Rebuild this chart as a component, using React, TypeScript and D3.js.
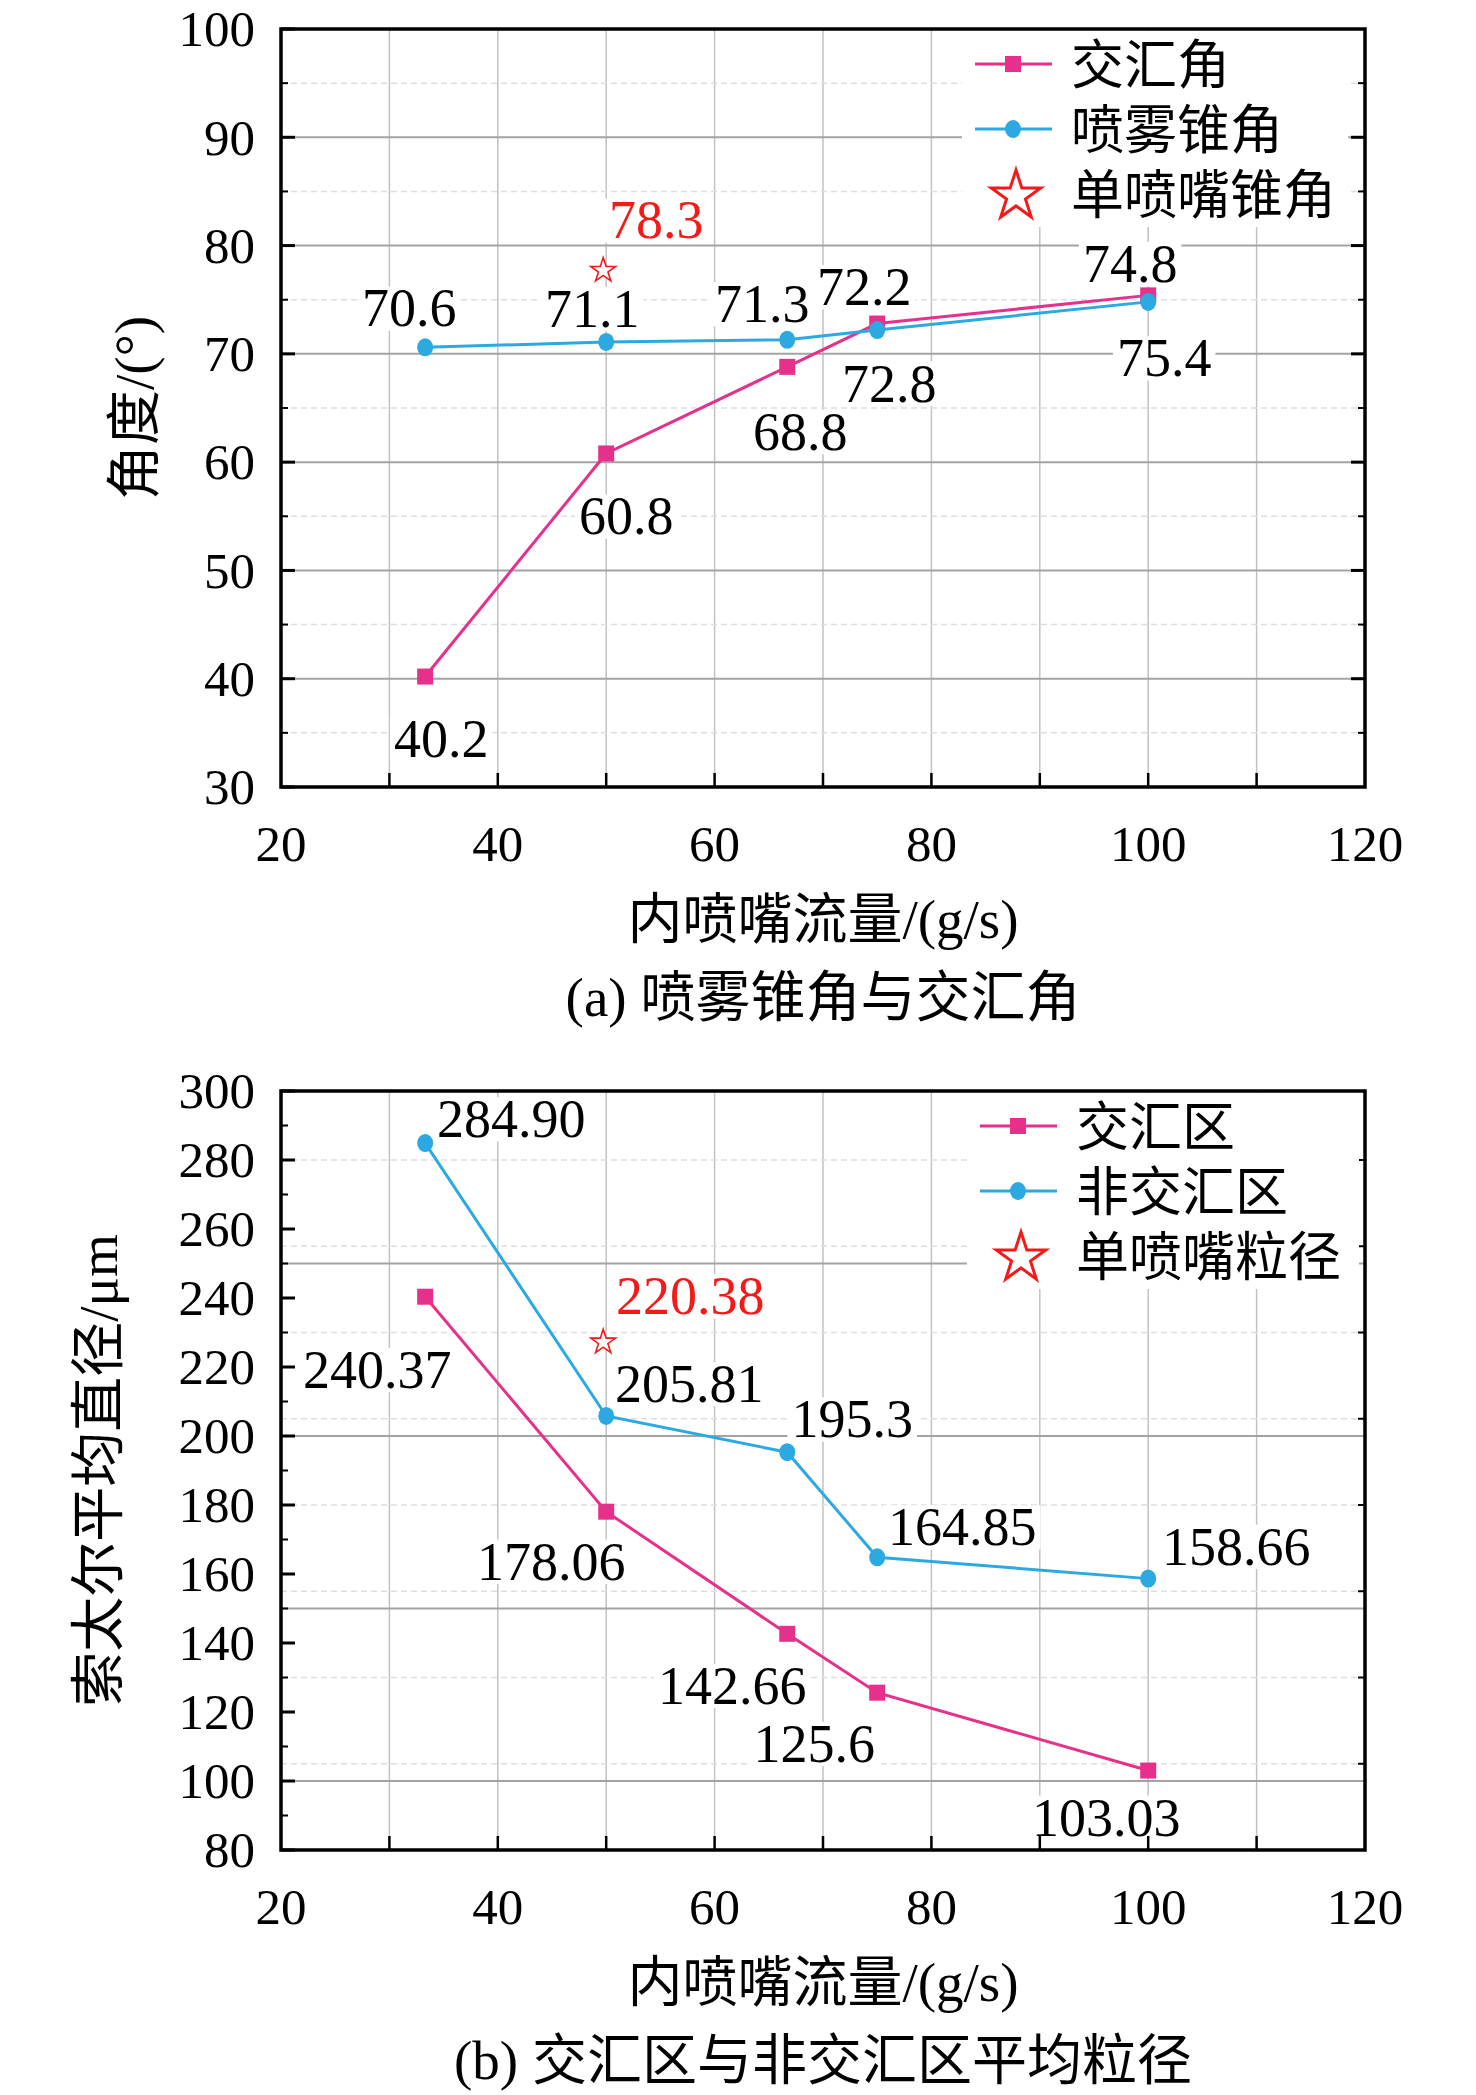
import * as d3 from 'd3';

// inner nozzle flow (g/s), shared by both panels
const flowRates = [33.3, 50, 66.7, 75, 100];

// (a) angles
const mergeAngle = [40.2, 60.8, 68.8, 72.8, 75.4];
const sprayAngle = [70.6, 71.1, 71.3, 72.2, 74.8];
const mergeAngleText = ['40.2', '60.8', '68.8', '72.8', '75.4'];
const sprayAngleText = ['70.6', '71.1', '71.3', '72.2', '74.8'];
// the star is drawn a little above its printed value in the source figure
const singleAngle = { flow: 50, value: 77.7, text: '78.3' };

// (b) Sauter mean diameter
const mergeSize = [240.37, 178.06, 142.66, 125.6, 103.03];
const nonMergeSize = [284.9, 205.81, 195.3, 164.85, 158.66];
const mergeSizeText = ['240.37', '178.06', '142.66', '125.6', '103.03'];
const nonMergeSizeText = ['284.90', '205.81', '195.3', '164.85', '158.66'];
const singleSize = { flow: 50, value: 227.2, text: '220.38' };

const xTicks = [20, 40, 60, 80, 100, 120];
const angleTicks = [30, 40, 50, 60, 70, 80, 90, 100];
const sizeTicks = [80, 100, 120, 140, 160, 180, 200, 220, 240, 260, 280, 300];

// label placement relative to its point: [dx, dy of baseline]
const sprayAngleOffsets = [[-16, -21], [-14, -15], [-25, -18], [-13, -25], [-18, -20]];
const mergeAngleOffsets = [[16, 80], [20, 81], [13, 83], [12, 78], [16, 81]];
const nonMergeSizeOffsets = [[86, -6], [83, -14], [65, -15], [85, -12], [88, -14]];
const mergeSizeOffsets = [[-48, 91], [-55, 68], [-55, 70], [-63, 69], [-42, 65]];

const FONT = "'Liberation Serif', Tinos, 'Times New Roman', 'DejaVu Serif', 'Noto Sans CJK SC', serif";
const PINK = '#E5318B';
const BLUE = '#2CA9E1';
const RED = '#F41A1A';
const LABEL_FS = 54;
const TICK_FS = 51;
const TITLE_FS = 55;

const x = d3.scaleLinear().domain([20, 120]).range([281, 1365]);

const textWidth = (s: string, fs: number) =>
  s.split('').reduce((w, c) => w + (c === '.' ? 0.25 : 0.5), 0) * fs;

function Label({ cx, base, text, color }: { cx: number; base: number; text: string; color: string }) {
  const w = textWidth(text, LABEL_FS);
  return (
    <g>
      <rect x={cx - w / 2 - 4} y={base - 0.74 * LABEL_FS} width={w + 8} height={0.82 * LABEL_FS} fill="white" />
      <text x={cx} y={base} textAnchor="middle" fontSize={LABEL_FS} fill={color}>{text}</text>
    </g>
  );
}

function Marker({ kind, cx, cy, color }: { kind: string; cx: number; cy: number; color: string }) {
  if (kind === 'square') return <rect x={cx - 8} y={cy - 8} width={16} height={16} fill={color} />;
  return <ellipse cx={cx} cy={cy} rx={8} ry={9} fill={color} />;
}

const star = (r: number) => d3.symbol(d3.symbolStar, (r * r) / 0.8908)()!;

interface Series {
  name: string;
  values: number[];
  texts: string[];
  offsets: number[][];
  color: string;
  marker: string;
}

interface PanelProps {
  top: number;
  bottom: number;
  domain: [number, number];
  leftTicks: number[];
  leftMinor: number;
  gridMajor: number;
  rightMinor: number;
  series: Series[];
  single: { flow: number; value: number; text: string };
  singleName: string;
  singleOffset: number[];
  legendX: number;
  legendW: number;
  legendOverTicks: boolean;
  yTitle: string;
  yTitleX: number;
  caption: string;
}

function Panel(p: PanelProps) {
  const y = d3.scaleLinear().domain(p.domain).range([p.bottom, p.top]);
  const [lo, hi] = p.domain;
  const left = x.range()[0];
  const right = x.range()[1];
  const gridMajor = d3.range(Math.ceil(lo / p.gridMajor) * p.gridMajor, hi, p.gridMajor).filter(v => v > lo);
  const gridMinor = d3.range(lo, hi, p.rightMinor).filter(v => v > lo && v % p.gridMajor !== 0);
  const leftMinor = d3.range(lo, hi, p.leftMinor).filter(v => v > lo && !p.leftTicks.includes(v));
  const vGrid = d3.range(30, 120, 10);
  const line = d3.line<number>().x((_, i) => x(flowRates[i])).y(v => y(v));

  const legendTop = p.top + 2;
  const legendRows = [...p.series.map(s => s.name), p.singleName];

  const rightTicks = (
    <g stroke="black">
      {d3.range(lo + p.rightMinor, hi, p.rightMinor).map(v => {
        const major = v % p.gridMajor === 0;
        return <line key={v} x1={right} x2={right - (major ? 14 : 7)} y1={y(v)} y2={y(v)} strokeWidth={major ? 3 : 2} />;
      })}
    </g>
  );

  const legend = (
    <g>
      <rect x={p.legendX} y={legendTop} width={p.legendW} height={196} fill="white" />
      {legendRows.map((name, i) => {
        const cy = p.top + 35 + i * 65;
        const s = p.series[i];
        return (
          <g key={name}>
            {s ? (
              <g>
                <line x1={p.legendX + 13} x2={p.legendX + 90} y1={cy} y2={cy} stroke={s.color} strokeWidth={3} />
                <Marker kind={s.marker} cx={p.legendX + 51} cy={cy} color={s.color} />
              </g>
            ) : (
              <path d={star(26)} transform={`translate(${p.legendX + 54},${cy + 2})`} fill="white" stroke={RED} strokeWidth={3} />
            )}
            <text x={p.legendX + 109} y={cy + 0.36 * TITLE_FS} fontSize={TITLE_FS - 2}>{name}</text>
          </g>
        );
      })}
    </g>
  );

  return (
    <g>
      {/* grid */}
      <g>
        {vGrid.map(v => (
          <line key={v} x1={x(v)} x2={x(v)} y1={p.top} y2={p.bottom} stroke="#c2c2c2" strokeWidth={1.5} />
        ))}
        {gridMinor.map(v => (
          <line key={v} x1={left} x2={right} y1={y(v)} y2={y(v)} stroke="#dedede" strokeWidth={1.5} strokeDasharray="6 4" />
        ))}
        {gridMajor.map(v => (
          <line key={v} x1={left} x2={right} y1={y(v)} y2={y(v)} stroke="#a3a3a3" strokeWidth={2} />
        ))}
      </g>

      {/* value labels */}
      {p.series.map(s =>
        s.values.map((v, i) => (
          <Label key={s.name + i} cx={x(flowRates[i]) + s.offsets[i][0]} base={y(v) + s.offsets[i][1]} text={s.texts[i]} color="black" />
        ))
      )}
      <Label cx={x(p.single.flow) + p.singleOffset[0]} base={y(p.single.value) + p.singleOffset[1]} text={p.single.text} color={RED} />

      {/* series */}
      {p.series.map(s => (
        <g key={s.name}>
          <path d={line(s.values)!} fill="none" stroke={s.color} strokeWidth={3} />
          {s.values.map((v, i) => (
            <Marker key={i} kind={s.marker} cx={x(flowRates[i])} cy={y(v)} color={s.color} />
          ))}
        </g>
      ))}
      <path d={star(13)} transform={`translate(${x(p.single.flow) - 3},${y(p.single.value)})`} fill="white" stroke={RED} strokeWidth={1.6} />

      {p.legendOverTicks ? null : legend}

      {/* frame and ticks */}
      <rect x={left} y={p.top} width={right - left} height={p.bottom - p.top} fill="none" stroke="black" strokeWidth={3.5} />
      <g stroke="black">
        {p.leftTicks.map(v => (
          <line key={v} x1={left} x2={left + 14} y1={y(v)} y2={y(v)} strokeWidth={3} />
        ))}
        {leftMinor.map(v => (
          <line key={v} x1={left} x2={left + 7} y1={y(v)} y2={y(v)} strokeWidth={2} />
        ))}
        {vGrid.map(v => (
          <line key={v} x1={x(v)} x2={x(v)} y1={p.bottom} y2={p.bottom - 14} strokeWidth={2.5} />
        ))}
      </g>
      {rightTicks}
      {p.legendOverTicks ? legend : null}

      {/* tick labels */}
      {p.leftTicks.map(v => (
        <text key={v} x={255} y={y(v) + 0.34 * TICK_FS} textAnchor="end" fontSize={TICK_FS}>{v}</text>
      ))}
      {xTicks.map(v => (
        <text key={v} x={x(v)} y={p.bottom + 74} textAnchor="middle" fontSize={TICK_FS}>{v}</text>
      ))}

      {/* titles */}
      <text transform={`translate(${p.yTitleX},${(p.top + p.bottom) / 2}) rotate(-90)`} textAnchor="middle" dy={0.35 * TITLE_FS} fontSize={TITLE_FS}>
        {p.yTitle}
      </text>
      <text x={(left + right) / 2} y={p.bottom + 151} textAnchor="middle" fontSize={TITLE_FS}>内喷嘴流量/(g/s)</text>
      <text x={(left + right) / 2} y={p.bottom + 229} textAnchor="middle" fontSize={TITLE_FS}>{p.caption}</text>
    </g>
  );
}

export default function App() {
  return (
    <svg width={1476} height={2095} style={{ position: 'absolute', left: 0, top: 0, background: 'white', fontFamily: FONT }}>
      <rect width={1476} height={2095} fill="white" />
      <Panel
        top={29}
        bottom={787}
        domain={[30, 100]}
        leftTicks={angleTicks}
        leftMinor={5}
        gridMajor={10}
        rightMinor={5}
        series={[
          { name: '交汇角', values: mergeAngle, texts: mergeAngleText, offsets: mergeAngleOffsets, color: PINK, marker: 'square' },
          { name: '喷雾锥角', values: sprayAngle, texts: sprayAngleText, offsets: sprayAngleOffsets, color: BLUE, marker: 'circle' },
        ]}
        single={singleAngle}
        singleName="单喷嘴锥角"
        singleOffset={[50, -32]}
        legendX={962}
        legendW={386}
        legendOverTicks={false}
        yTitle="角度/(°)"
        yTitleX={134}
        caption="(a) 喷雾锥角与交汇角"
      />
      <Panel
        top={1091}
        bottom={1850}
        domain={[80, 300]}
        leftTicks={sizeTicks}
        leftMinor={10}
        gridMajor={50}
        rightMinor={25}
        series={[
          { name: '交汇区', values: mergeSize, texts: mergeSizeText, offsets: mergeSizeOffsets, color: PINK, marker: 'square' },
          { name: '非交汇区', values: nonMergeSize, texts: nonMergeSizeText, offsets: nonMergeSizeOffsets, color: BLUE, marker: 'circle' },
        ]}
        single={singleSize}
        singleName="单喷嘴粒径"
        singleOffset={[84, -28]}
        legendX={967}
        legendW={392}
        legendOverTicks={true}
        yTitle="索太尔平均直径/μm"
        yTitleX={98}
        caption="(b) 交汇区与非交汇区平均粒径"
      />
    </svg>
  );
}
